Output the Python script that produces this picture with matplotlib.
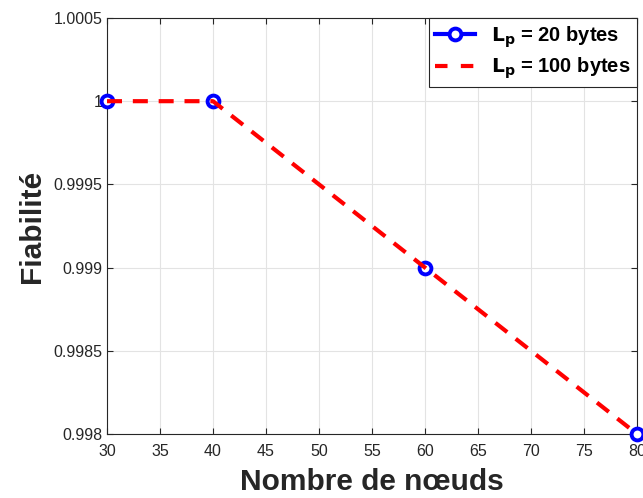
import matplotlib as mpl
import matplotlib.pyplot as plt
from matplotlib.lines import Line2D

mpl.use('Agg')
plt.rcParams['font.family'] = ['Liberation Sans', 'DejaVu Sans']

noeuds = [30, 40, 60, 80]
fiab_20 = [1.0, 1.0, 0.999, 0.998]
fiab_100 = [1.0, 1.0, 0.999, 0.998]
xticks = [30, 35, 40, 45, 50, 55, 60, 65, 70, 75, 80]
yticks = [0.998, 0.9985, 0.999, 0.9995, 1.0, 1.0005]
ytick_labels = ['0.998', '0.9985', '0.999', '0.9995', '1', '1.0005']

fig = plt.figure(figsize=(6.43, 4.98), dpi=100)
ax = fig.add_axes([0.1664, 0.1285, 0.8243, 0.8354])

# la courbe bleue est cachée sous la rouge, seuls les marqueurs se voient
ax.plot(noeuds, fiab_20, color='blue', linestyle='none', marker='o', markersize=8.5,
        markerfacecolor='white', markeredgewidth=2.8, clip_on=False, zorder=3)
ax.plot(noeuds, fiab_100, color='red', linewidth=3, linestyle=(0, (3.6, 2.6)),
        clip_on=False, zorder=4)

ax.set_xlim(30, 80)
ax.set_ylim(0.998, 1.0005)
ax.set_xticks(xticks)
ax.set_yticks(yticks)
ax.set_yticklabels(ytick_labels)
ax.tick_params(direction='in', labelsize=11.5, colors='#262626', length=4, top=True, right=True)
ax.tick_params(axis='x', pad=7)
ax.grid(True, color='#e3e3e3', linewidth=0.8)
for s in ax.spines.values():
    s.set_color('#262626')
    s.set_linewidth(0.8)

ax.set_xlabel('Nombre de nœuds', fontsize=21.5, fontweight='bold', color='#262626', labelpad=7)
ax.set_ylabel('Fiabilité', fontsize=21.5, fontweight='bold', color='#262626', labelpad=5)

handles = [
    Line2D([], [], color='blue', linewidth=3, marker='o', markersize=8.5,
           markerfacecolor='white', markeredgewidth=2.8),
    Line2D([], [], color='red', linewidth=3, linestyle=(0, (3.0, 3.2))),
]
labels = [r'$\mathbf{L_p}$ = 20 bytes', r'$\mathbf{L_p}$ = 100 bytes']
leg = ax.legend(handles, labels, loc='upper right', prop={'weight': 'bold', 'size': 14.5},
                fancybox=False, framealpha=1, edgecolor='#262626', borderaxespad=0,
                handlelength=2.0, borderpad=0.3, labelspacing=0.3, handletextpad=0.8)
leg.get_frame().set_linewidth(0.8)

plt.savefig('out.png', dpi=100)
